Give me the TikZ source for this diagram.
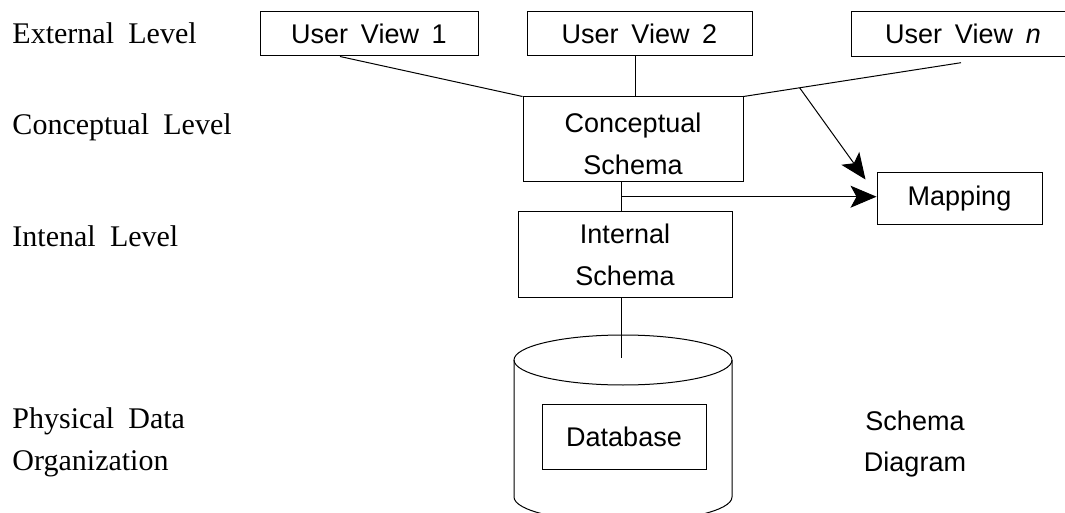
\documentclass[tikz,border=0pt]{standalone}
\usepackage{fontspec}
\setmainfont{Liberation Serif}[WordSpace=1.9]
\newfontfamily\hvfont{Liberation Sans}[WordSpace=1.7]
\usetikzlibrary{arrows.meta,calc}
\begin{document}
\begin{tikzpicture}[x=1pt,y=-1pt, line width=1pt,
  lvl/.style={anchor=base west, inner sep=0pt, font=\fontsize{30}{36}\selectfont},
  box/.style={draw, inner sep=0pt, font=\hvfont\fontsize{27}{41.5}\selectfont},
  txt/.style={inner sep=0pt, align=center, font=\hvfont\fontsize{27}{41.5}\selectfont},
  arr/.style={-{Stealth[length=26pt,width=22pt,inset=6pt]}}]
\clip (0,0) rectangle (1065,513);
\fill[white] (0,0) rectangle (1065,513);
% level labels
\node[lvl] (l1) at (12,44) {External Level};
\node[lvl] (l2) at (12,135) {Conceptual Level};
\node[lvl] (l3) at (12,246) {Intenal Level};
\node[lvl] (l4) at (12,428) {Physical Data};
\node[lvl] (l5) at (12,470) {Organization};
% boxes
\node[box, minimum width=218pt, minimum height=44pt] (uv1) at (369,34) {User View 1};
\node[box, minimum width=225pt, minimum height=44pt] (uv2) at (639.5,34) {User View 2};
\node[box, minimum width=230pt, minimum height=45pt] (uvn) at (966,34) {\hspace*{-6pt}User View \textit{n}};
\node[box, minimum width=220pt, minimum height=85pt] (cs) at (633,139.5) {};
\node[txt] (cst) at (633,144) {Conceptual\\Schema};
\node[box, minimum width=214pt, minimum height=85pt] (is) at (625,254.5) {};
\node[txt] (ist) at (625,255) {Internal\\Schema};
\node[box, minimum width=165pt, minimum height=51pt] (map) at (959.5,198.5) {Mapping};
\node[txt] (sd) at (915,444) {Schema\\Diagram};
% cylinder
\draw (623,360) ellipse [x radius=109pt, y radius=25pt];
\draw (514,360) -- (514,497) arc[start angle=180, end angle=360, x radius=109pt, y radius=25pt] -- (732,360);
\node[box, minimum width=164pt, minimum height=65pt] (db) at (624,436.5) {Database};
% connectors
\coordinate (nstart) at (961,62.7);
\coordinate (j) at (621,196.7);
\coordinate (dbtop) at (621.7,358);
\draw ([xshift=-29pt]uv1.south) -- (cs.north west);
\draw ([xshift=2pt]cs.north) -- ([xshift=2pt]cs.north |- uv2.south);
\draw (nstart) -- (cs.north east);
\draw[arr] ($(nstart)!0.742!(cs.north east)$) -- ($(map.north west)+(-11,7)$);
\draw (cs.south -| j) -- (is.north -| j);
\draw[arr] (j) -- (j -| map.west);
\draw (is.south -| dbtop) -- (dbtop);
\end{tikzpicture}
\end{document}
